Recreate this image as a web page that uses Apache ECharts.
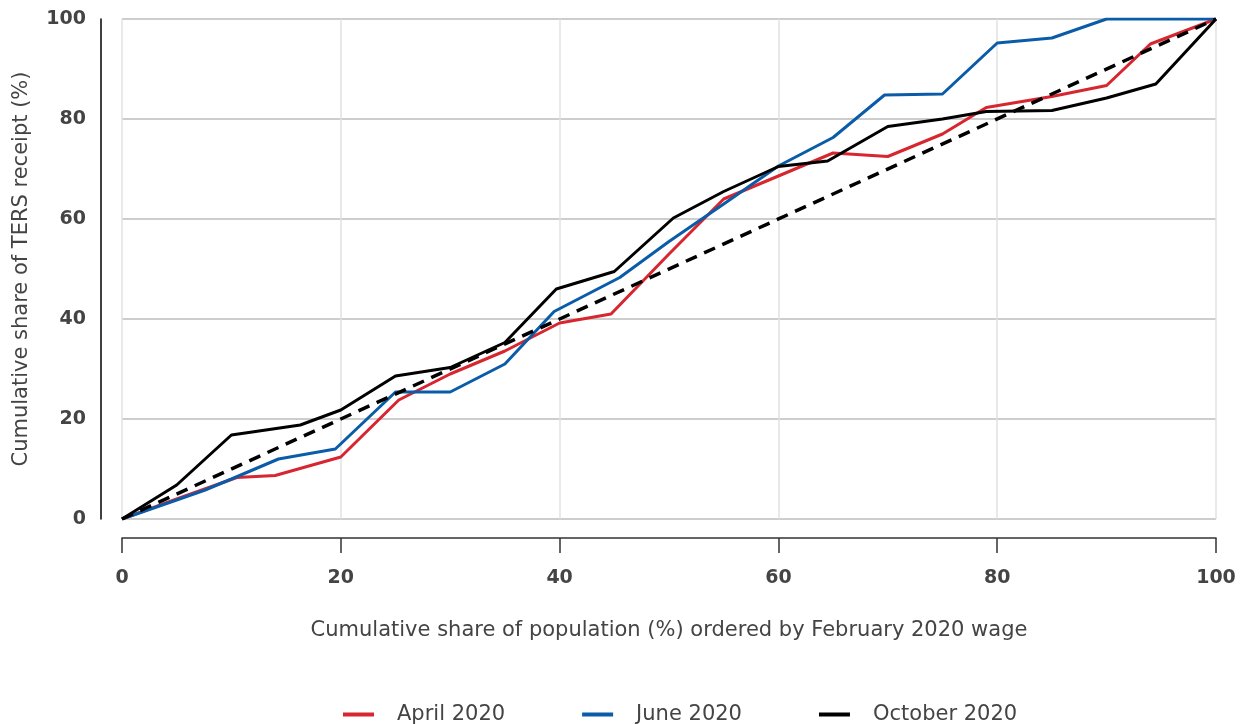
<!DOCTYPE html>
<html>
<head>
<meta charset="utf-8">
<script src="https://cdn.jsdelivr.net/npm/echarts@6/dist/echarts.min.js"></script>
<style>
  html, body { margin: 0; padding: 0; background: #fff; }
  #chart { width: 1241px; height: 724px; }
</style>
</head>
<body>
<div id="chart"></div>
<script>
// [population share, TERS share]
const april2020 = [[0, 0], [5, 4], [10.5, 8.3], [14, 8.7], [20, 12.4], [25.3, 23.8], [30, 29], [35, 33.6], [40, 39.2],
  [44.7, 41], [50, 53], [55, 64], [60, 68.6], [65, 73.2], [70, 72.5], [75, 77], [79, 82.3], [85, 84.5], [90, 86.7],
  [94, 95], [100, 100]]
const june2020 = [[0, 0], [5, 3.8], [7.6, 5.8], [10, 8], [14.3, 12], [19.5, 14], [25, 25.4], [30, 25.4], [35, 31],
  [39.5, 41.5], [45.5, 48.3], [50, 55.5], [55, 63], [60, 70.6], [65, 76.3], [69.7, 84.8], [75, 85], [80, 95.2],
  [85, 96.2], [90, 100], [95, 100], [100, 100]]
const october2020 = [[0, 0], [5, 6.8], [10, 16.8], [16.3, 18.8], [20, 21.8], [25, 28.6], [30, 30.3], [35, 35.3],
  [39.7, 46], [45, 49.5], [50.4, 60.2], [55, 65.5], [60, 70.5], [64.5, 71.6], [70, 78.5], [75, 80], [79, 81.5],
  [85, 81.7], [90, 84.2], [94.5, 87], [100, 100]]
const equality = [[0, 0], [100, 100]]

const seriesNames = ['April 2020', 'June 2020', 'October 2020']
const seriesColors = ['#d7262f', '#0b5ca8', '#000000']
const fontFamily = '"DejaVu Sans", sans-serif'

let chart = echarts.init(document.getElementById('chart'))

function lineSeries (name, data, color) {
  return {
    name: name,
    type: 'line',
    data: data,
    symbol: 'none',
    lineStyle: { color: color, width: 3 },
    itemStyle: { color: color },
    animation: false
  }
}

chart.setOption({
  animation: false,
  grid: { left: 122, right: 25, top: 19, bottom: 205 },
  legend: {
    top: 699,
    left: 338,
    itemGap: 77,
    itemWidth: 31,
    itemHeight: 4,
    icon: 'rect',
    data: seriesNames,
    textStyle: { fontFamily: fontFamily, fontSize: 21, color: '#444', padding: [0, 0, 0, 18] }
  },
  xAxis: {
    type: 'value',
    min: 0,
    max: 100,
    interval: 20,
    offset: 19,
    name: 'Cumulative share of population (%) ordered by February 2020 wage',
    nameLocation: 'middle',
    nameGap: 82,
    nameTextStyle: { fontFamily: fontFamily, fontSize: 21, fontWeight: 500, color: '#444' },
    axisLine: { show: true, onZero: false, lineStyle: { color: '#333', width: 1.5 } },
    axisTick: { show: true, length: 15, lineStyle: { color: '#333', width: 1.5 } },
    axisLabel: { fontFamily: fontFamily, fontSize: 19, fontWeight: 'bold', color: '#444', margin: 31 },
    splitLine: { show: true, lineStyle: { color: '#e2e2e2', width: 1.5 } }
  },
  yAxis: {
    type: 'value',
    min: 0,
    max: 100,
    interval: 20,
    offset: 21,
    name: 'Cumulative share of TERS receipt (%)',
    nameLocation: 'middle',
    nameGap: 69,
    nameTextStyle: { fontFamily: fontFamily, fontSize: 21, fontWeight: 500, color: '#444' },
    axisLine: { show: true, onZero: false, lineStyle: { color: '#000', width: 1.5 } },
    axisTick: { show: false },
    axisLabel: { fontFamily: fontFamily, fontSize: 19, fontWeight: 'bold', color: '#444', margin: 15 },
    splitLine: { show: true, lineStyle: { color: '#bdbdbd', width: 1.5 } }
  },
  series: [
    lineSeries(seriesNames[0], april2020, seriesColors[0]),
    lineSeries(seriesNames[1], june2020, seriesColors[1]),
    lineSeries(seriesNames[2], october2020, seriesColors[2]),
    {
      name: 'Equality',
      type: 'line',
      data: equality,
      symbol: 'none',
      lineStyle: { color: '#000', width: 3.5, type: [12, 8] },
      z: 3
    }
  ]
})
</script>
</body>
</html>
